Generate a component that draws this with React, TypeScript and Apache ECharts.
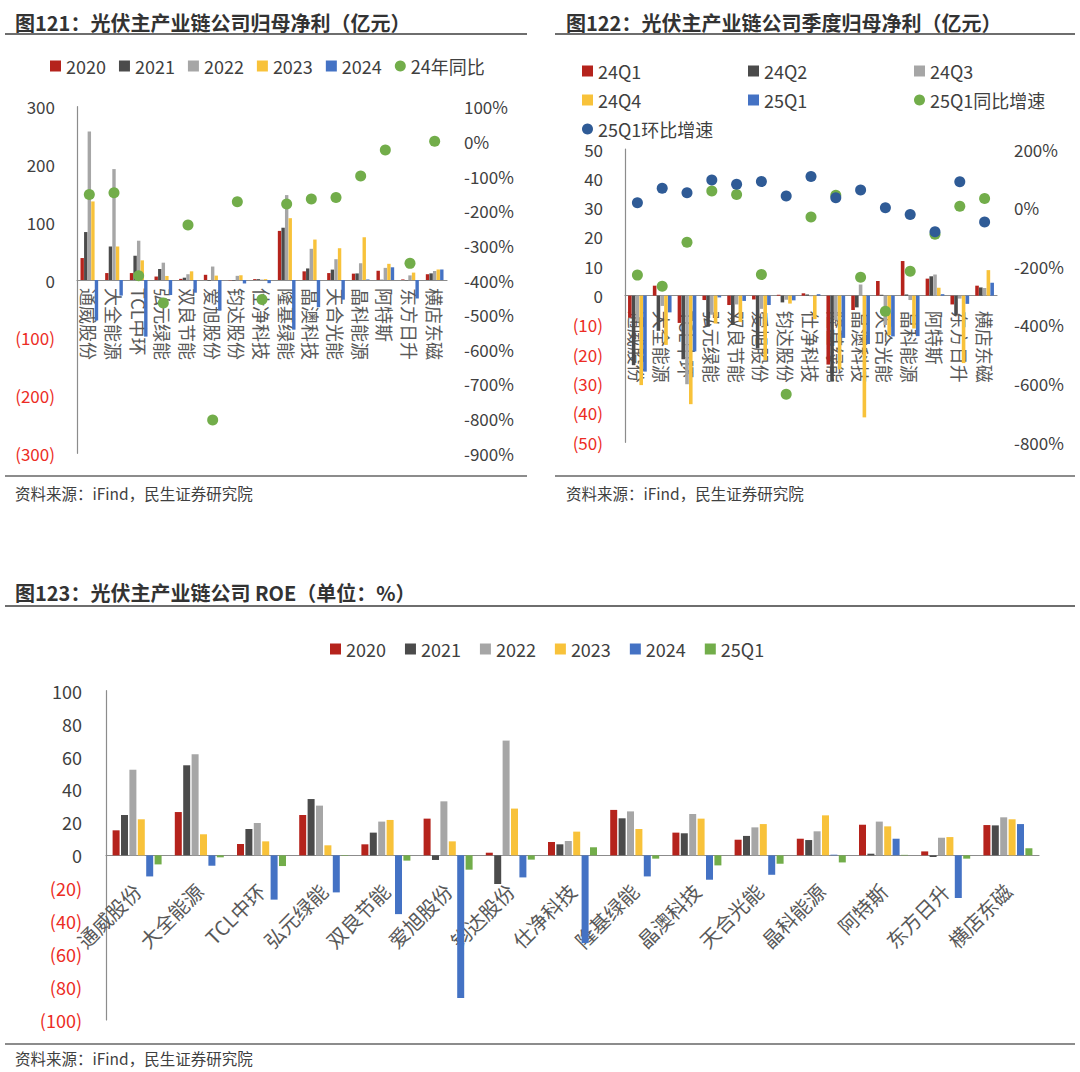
import { useEffect, useRef } from 'react';
import * as echarts from 'echarts';

// ---------- data ----------
const companies = ['通威股份', '大全能源', 'TCL中环', '弘元绿能', '双良节能', '爱旭股份', '钧达股份', '仕净科技', '隆基绿能', '晶澳科技', '天合光能', '晶科能源', '阿特斯', '东方日升', '横店东磁'];

// Chart 121: annual net profit (亿元) + 24 YoY (%)
const np2020 = [38, 12, 12, 6, 2, 9, -0.5, 1.5, 85, 15, 12, 11, 16, 1, 10];
const np2021 = [83, 58, 42, 19, 4, -1.2, -1, 1.5, 90.5, 20, 18, 11.4, 0.5, -0.5, 11.5];
const np2022 = [257, 192, 68, 30, 10, 23.3, 7.2, 0.7, 147, 54, 36, 29, 21, 8, 15.6];
const np2023 = [136, 58, 34, 7, 15, 7.6, 8.2, 1.5, 107, 70, 55, 74, 28, 12.8, 18.2];
const np2024 = [-70, -27, -98, -26, -22, -53, -6, -5.5, -86, -47, -34, 1, 22, -32, 18.2];
const yoy24 = [-153, -148, -388, -466, -241, -804, -174, -456, -181, -166, -162, -100, -25, -352, 0];

// Chart 122: quarterly net profit (亿元) + 25Q1 YoY / QoQ (%)
const q24Q1 = [-7.5, 3.4, -9.3, -1.5, -3.2, -1.3, 0.3, 0.8, -23.5, -4.9, 5.0, 11.8, 5.8, -3.0, 3.4];
const q24Q2 = [-23.7, -12, -21.7, -10.6, -10, -18, -2.3, 0.4, -29.3, -4.0, 0.3, 0.4, 6.6, -6.8, 2.8];
const q24Q3 = [-8.6, -3.5, -30.2, -6.5, -3, -4.5, -1.4, -0.2, -8.3, 3.8, -10, -1.5, 7.2, -1, 2.6];
const q24Q4 = [-30.5, -16.8, -37.0, -9.5, -9, -22, -2.7, -8, -25.1, -41.5, -13.5, -11.2, 2.7, -23, 8.7];
const q25Q1 = [-25.9, -5.7, -19.0, -0.6, -1.8, -3.2, -1.6, 0.5, -14.4, -16.5, -13.9, -13.8, 0.5, -2.8, 4.4];
const yoy25Q1 = [-230, -268, -118, 57, 45, -228, -636, -32, 42, -237, -353, -217, -91, 5, 31];
const qoq25Q1 = [17, 66, 51, 94, 80, 89, 40, 106, 34, 60, 0, -23, -82, 88, -49];

// Chart 123: ROE (%)
const roe2020 = [15.2, 26.3, 6.9, 24.5, 6.7, 22.3, 1.6, 8.1, 27.6, 13.8, 9.5, 10.1, 18.6, 2.4, 18.4];
const roe2021 = [24.5, 54.7, 16, 34.2, 13.8, -2.8, -17.4, 6.7, 22.5, 13.4, 11.8, 9.3, 1.0, -1.0, 18.2];
const roe2022 = [52, 61.4, 19.7, 30.2, 20.5, 32.8, 69.7, 8.7, 26.7, 25.1, 17, 14.6, 20.5, 10.7, 23.1];
const roe2023 = [21.9, 12.8, 8.5, 6.1, 21.5, 8.5, 28.4, 14.4, 16, 22.3, 19, 24.3, 17.6, 11.1, 21.9];
const roe2024 = [-12.8, -6.3, -26.9, -22.5, -35.7, -86.7, -13.4, -53.3, -12.8, -14.8, -11.8, 0.4, 10.1, -25.9, 19.0];
const roe25Q1 = [-5.5, -1.2, -6.5, -0.3, -3.2, -8.7, -2.6, 4.9, -2.0, -6.1, -5.1, -4.3, 0.3, -2.0, 4.3];

// ---------- styles ----------
const FONT = "'Noto Sans CJK SC', 'Noto Sans', sans-serif";
const TXT = '#404040';
const CAT = '#595959';
const NEG = '#EC2C24';
const AX = '#8C8C8C';
const RED = '#B5231C';
const DARK = '#4B4B4B';
const GRAY = '#A6A6A6';
const YEL = '#F8C23A';
const BLUE = '#4472C4';
const GREEN = '#72AD4A';
const NAVY = '#2F5B96';

const negFmt = (v: number) => (v < 0 ? `(${-v})` : `${v}`);
const negColor = (v: any) => (Number(v) < 0 ? NEG : TXT);

function bar(name: string, data: number[], color: string, idx: number, yIdx: number, width: number, gap: string) {
  return {
    type: 'bar', name, data, xAxisIndex: idx, yAxisIndex: yIdx,
    barWidth: width, barGap: gap, itemStyle: { color }, z: 2,
  };
}
function dots(name: string, data: number[], color: string, idx: number, yIdx: number) {
  return {
    type: 'scatter', name, data, xAxisIndex: idx, yAxisIndex: yIdx,
    symbol: 'circle', symbolSize: 11, itemStyle: { color, opacity: 1 }, z: 3,
  };
}

function leftAxis(grid: number, min: number, max: number, interval: number, margin: number, fontSize: number) {
  return {
    type: 'value', gridIndex: grid, position: 'left', min, max, interval,
    axisLine: { show: true, lineStyle: { color: AX, width: 1.2 } },
    axisTick: { show: false }, splitLine: { show: false },
    axisLabel: { formatter: negFmt, color: negColor, fontSize, margin, fontFamily: FONT },
  };
}
function rightAxis(grid: number, min: number, max: number, interval: number) {
  return {
    type: 'value', gridIndex: grid, position: 'right', min, max, interval,
    axisLine: { show: false }, axisTick: { show: false }, splitLine: { show: false },
    axisLabel: { formatter: (v: number) => `${v}%`, color: TXT, fontSize: 17, margin: 17, fontFamily: FONT },
  };
}
// category axis placed on the zero line of the left value axis via (negative) offset
function catAxis(grid: number, offset: number, rotate: number, margin: number, fontSize: number) {
  return {
    type: 'category', gridIndex: grid, data: companies, position: 'bottom', offset,
    axisLine: { show: true, onZero: false, lineStyle: { color: AX, width: 1.2 } },
    axisTick: { show: false },
    axisLabel: { interval: 0, rotate, margin, fontSize, color: CAT, fontFamily: FONT },
  };
}

const strip = (n: string) => n.slice(1);

// grid geometry (symmetric value ranges -> zero line in the middle)
const g1 = { left: 77, top: 106.7, width: 370, height: 346.6 };
const g2 = { left: 625, top: 149, width: 372, height: 293.3 };
const g3 = { left: 106, top: 690.7, width: 933, height: 329.3 };

const legendText = { fontSize: 18, color: TXT, lineHeight: 20, fontFamily: FONT };

const option = {
  animation: false,
  backgroundColor: '#ffffff',
  textStyle: { fontFamily: FONT },
  grid: [g1, g2, g3],
  xAxis: [
    catAxis(0, -g1.height / 2, -90, 8, 18),
    catAxis(1, -g2.height / 2, -90, 15, 18),
    catAxis(2, -g3.height / 2, 45, 32, 20),
  ],
  yAxis: [
    leftAxis(0, -300, 300, 100, 22, 17),
    rightAxis(0, -900, 100, 100),
    leftAxis(1, -50, 50, 10, 22, 17),
    rightAxis(1, -800, 200, 200),
    leftAxis(2, -100, 100, 20, 24, 18),
  ],
  legend: [
    {
      left: 50, top: 56, padding: 0, itemWidth: 11, itemHeight: 11, itemGap: 13,
      textStyle: legendText, formatter: strip,
      data: [
        { name: 'a2020', icon: 'rect' }, { name: 'a2021', icon: 'rect' }, { name: 'a2022', icon: 'rect' },
        { name: 'a2023', icon: 'rect' }, { name: 'a2024', icon: 'rect' }, { name: 'a24年同比', icon: 'circle' },
      ],
    },
    {
      left: 582, top: 61, width: 500, padding: 0, itemWidth: 11, itemHeight: 11, itemGap: 9,
      textStyle: { ...legendText, width: 141 }, formatter: strip,
      data: [
        { name: 'b24Q1', icon: 'rect' }, { name: 'b24Q2', icon: 'rect' }, { name: 'b24Q3', icon: 'rect' },
        { name: 'b24Q4', icon: 'rect' }, { name: 'b25Q1', icon: 'rect' }, { name: 'b25Q1同比增速', icon: 'circle' },
        { name: 'b25Q1环比增速', icon: 'circle' },
      ],
    },
    {
      left: 330, top: 639, padding: 0, itemWidth: 11, itemHeight: 11, itemGap: 19,
      textStyle: legendText, formatter: strip,
      data: [
        { name: 'c2020', icon: 'rect' }, { name: 'c2021', icon: 'rect' }, { name: 'c2022', icon: 'rect' },
        { name: 'c2023', icon: 'rect' }, { name: 'c2024', icon: 'rect' }, { name: 'c25Q1', icon: 'rect' },
      ],
    },
  ],
  series: [
    bar('a2020', np2020, RED, 0, 0, 3.4, '5%'),
    bar('a2021', np2021, DARK, 0, 0, 3.4, '5%'),
    bar('a2022', np2022, GRAY, 0, 0, 3.4, '5%'),
    bar('a2023', np2023, YEL, 0, 0, 3.4, '5%'),
    bar('a2024', np2024, BLUE, 0, 0, 3.4, '5%'),
    dots('a24年同比', yoy24, GREEN, 0, 1),

    bar('b24Q1', q24Q1, RED, 1, 2, 3.6, '5%'),
    bar('b24Q2', q24Q2, DARK, 1, 2, 3.6, '5%'),
    bar('b24Q3', q24Q3, GRAY, 1, 2, 3.6, '5%'),
    bar('b24Q4', q24Q4, YEL, 1, 2, 3.6, '5%'),
    bar('b25Q1', q25Q1, BLUE, 1, 2, 3.6, '5%'),
    dots('b25Q1同比增速', yoy25Q1, GREEN, 1, 3),
    dots('b25Q1环比增速', qoq25Q1, NAVY, 1, 3),

    bar('c2020', roe2020, RED, 2, 4, 7, '20%'),
    bar('c2021', roe2021, DARK, 2, 4, 7, '20%'),
    bar('c2022', roe2022, GRAY, 2, 4, 7, '20%'),
    bar('c2023', roe2023, YEL, 2, 4, 7, '20%'),
    bar('c2024', roe2024, BLUE, 2, 4, 7, '20%'),
    bar('c25Q1', roe25Q1, GREEN, 2, 4, 7, '20%'),
  ],
  graphic: [
    { type: 'text', x: 15, y: 22, style: { text: '图121：光伏主产业链公司归母净利（亿元）', fontSize: 20, fontWeight: 'bold', fill: '#333333', fontFamily: FONT, verticalAlign: 'middle' } },
    { type: 'line', shape: { x1: 5, y1: 34, x2: 527, y2: 34 }, style: { stroke: '#6E6E6E', lineWidth: 2 } },
    { type: 'text', x: 566, y: 22, style: { text: '图122：光伏主产业链公司季度归母净利（亿元）', fontSize: 20, fontWeight: 'bold', fill: '#333333', fontFamily: FONT, verticalAlign: 'middle' } },
    { type: 'line', shape: { x1: 555, y1: 34, x2: 1075, y2: 34 }, style: { stroke: '#6E6E6E', lineWidth: 2 } },
    { type: 'line', shape: { x1: 5, y1: 476, x2: 527, y2: 476 }, style: { stroke: '#8C8C8C', lineWidth: 2 } },
    { type: 'line', shape: { x1: 555, y1: 476, x2: 1075, y2: 476 }, style: { stroke: '#8C8C8C', lineWidth: 2 } },
    { type: 'text', x: 15, y: 493, style: { text: '资料来源：iFind，民生证券研究院', fontSize: 15.5, fill: TXT, fontFamily: FONT, verticalAlign: 'middle' } },
    { type: 'text', x: 566, y: 493, style: { text: '资料来源：iFind，民生证券研究院', fontSize: 15.5, fill: TXT, fontFamily: FONT, verticalAlign: 'middle' } },
    { type: 'text', x: 15, y: 592, style: { text: '图123：光伏主产业链公司 ROE（单位：%）', fontSize: 20, fontWeight: 'bold', fill: '#333333', fontFamily: FONT, verticalAlign: 'middle' } },
    { type: 'line', shape: { x1: 5, y1: 606, x2: 1075, y2: 606 }, style: { stroke: '#6E6E6E', lineWidth: 2 } },
    { type: 'line', shape: { x1: 5, y1: 1044, x2: 1075, y2: 1044 }, style: { stroke: '#8C8C8C', lineWidth: 2 } },
    { type: 'text', x: 15, y: 1058, style: { text: '资料来源：iFind，民生证券研究院', fontSize: 15.5, fill: TXT, fontFamily: FONT, verticalAlign: 'middle' } },
  ],
};

export default function App() {
  const ref = useRef<HTMLDivElement>(null);
  useEffect(() => {
    if (!ref.current) return;
    const chart = echarts.init(ref.current, null, { renderer: 'svg', width: 1080, height: 1072 });
    chart.setOption(option as any);
    return () => chart.dispose();
  }, []);
  return (
    <div
      ref={ref}
      style={{ position: 'absolute', left: 0, top: 0, width: 1080, height: 1072, background: '#ffffff' }}
    />
  );
}
